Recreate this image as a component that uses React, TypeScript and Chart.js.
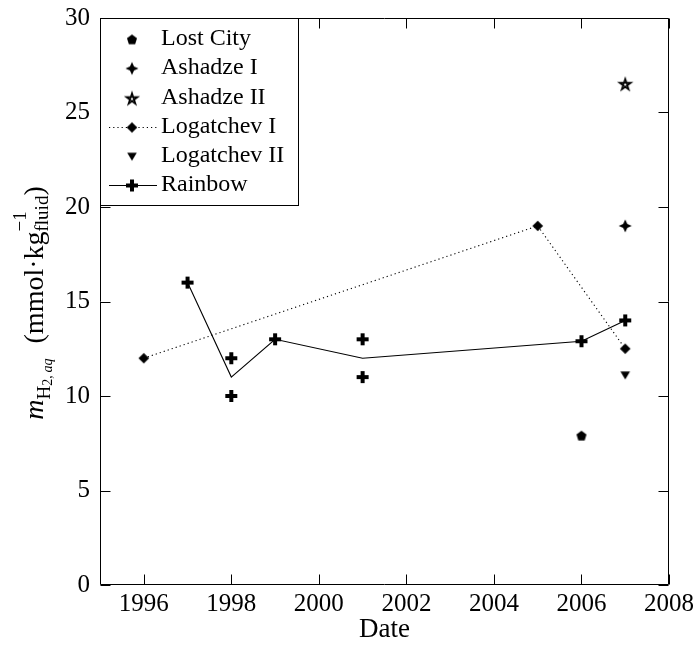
import { useEffect, useRef } from 'react';
import { Chart, registerables } from 'chart.js';

Chart.register(...registerables);

const FONT = '"Liberation Serif", "Times New Roman", serif';

const xTicks = [1996, 1998, 2000, 2002, 2004, 2006, 2008];
const yTicks = [0, 5, 10, 15, 20, 25, 30];

const seriesNames = ['Lost City', 'Ashadze I', 'Ashadze II', 'Logatchev I', 'Logatchev II', 'Rainbow'];

const lostCityYears = [2006];
const lostCityValues = [7.9];
const ashadzeIYears = [2007];
const ashadzeIValues = [19];
const ashadzeIIYears = [2007];
const ashadzeIIValues = [26.5];
const logatchevIYears = [1996, 2005, 2007];
const logatchevIValues = [12, 19, 12.5];
const logatchevIIYears = [2007];
const logatchevIIValues = [11.1];
const rainbowYears = [1997, 1998, 1998, 1999, 2001, 2001, 2006, 2007];
const rainbowValues = [16, 12, 10, 13, 13, 11, 12.9, 14];
const rainbowMeanYears = [1997, 1998, 1999, 2001, 2006, 2007];
const rainbowMeanValues = [16, 11, 13, 12, 12.9, 14];

const pts = (xs: number[], ys: number[]) => xs.map((x, i) => ({ x, y: ys[i] }));

function makeMarker(draw: (ctx: CanvasRenderingContext2D) => void, size = 20) {
  const c = document.createElement('canvas');
  c.width = size;
  c.height = size;
  const ctx = c.getContext('2d')!;
  ctx.translate(size / 2, size / 2);
  ctx.fillStyle = '#000';
  ctx.strokeStyle = '#000';
  draw(ctx);
  return c;
}

function buildMarkers() {
  const pentagon = makeMarker((ctx) => {
    const r = 5.3;
    ctx.beginPath();
    for (let i = 0; i < 5; i++) {
      const a = -Math.PI / 2 + (i * 2 * Math.PI) / 5;
      const px = r * Math.cos(a);
      const py = r * Math.sin(a) + 0.4;
      if (i === 0) ctx.moveTo(px, py);
      else ctx.lineTo(px, py);
    }
    ctx.closePath();
    ctx.fill();
  });
  const fourStar = makeMarker((ctx) => {
    const ro = 6.5;
    const ri = 2.9;
    ctx.beginPath();
    for (let i = 0; i < 8; i++) {
      const a = -Math.PI / 2 + (i * Math.PI) / 4;
      const r = i % 2 === 0 ? ro : ri;
      const px = r * Math.cos(a);
      const py = r * Math.sin(a);
      if (i === 0) ctx.moveTo(px, py);
      else ctx.lineTo(px, py);
    }
    ctx.closePath();
    ctx.fill();
  });
  const pentagram = makeMarker((ctx) => {
    const r = 6.0;
    ctx.lineWidth = 1.6;
    ctx.lineJoin = 'miter';
    ctx.beginPath();
    for (let k = 0; k < 5; k++) {
      const i = (k * 2) % 5;
      const a = -Math.PI / 2 + (i * 2 * Math.PI) / 5;
      const px = r * Math.cos(a);
      const py = r * Math.sin(a) + 0.5;
      if (k === 0) ctx.moveTo(px, py);
      else ctx.lineTo(px, py);
    }
    ctx.closePath();
    ctx.stroke();
  });
  const diamond = makeMarker((ctx) => {
    const r = 5.3;
    ctx.beginPath();
    ctx.moveTo(0, -r);
    ctx.lineTo(r, 0);
    ctx.lineTo(0, r);
    ctx.lineTo(-r, 0);
    ctx.closePath();
    ctx.fill();
  });
  const triDown = makeMarker((ctx) => {
    ctx.beginPath();
    ctx.moveTo(-4.8, -3.8);
    ctx.lineTo(4.8, -3.8);
    ctx.lineTo(0, 4.2);
    ctx.closePath();
    ctx.fill();
  });
  const plus = makeMarker((ctx) => {
    ctx.fillRect(-6, -2, 12, 4);
    ctx.fillRect(-2, -6, 4, 12);
  });
  return { pentagon, fourStar, pentagram, diamond, triDown, plus };
}

export default function App() {
  const ref = useRef<HTMLCanvasElement | null>(null);

  useEffect(() => {
    const canvas = ref.current;
    if (!canvas) return;
    const m = buildMarkers();

    const framePlugin = {
      id: 'frame',
      afterDatasetsDraw(chart: any) {
        const { ctx, chartArea } = chart;
        const { left, right, top, bottom } = chartArea;
        const xs = chart.scales.x;
        const ys = chart.scales.y;
        ctx.save();
        ctx.strokeStyle = '#000';
        ctx.lineWidth = 1;
        const L = Math.round(left) + 0.5;
        const R = Math.round(right) - 0.5;
        const T = Math.round(top) + 0.5;
        const B = Math.round(bottom) - 0.5;
        ctx.beginPath();
        ctx.rect(L, T, R - L, B - T);
        ctx.stroke();
        const tl = 10;
        ctx.beginPath();
        xTicks.forEach((v) => {
          const px = Math.round(xs.getPixelForValue(v)) + 0.5;
          ctx.moveTo(px, B);
          ctx.lineTo(px, B - tl);
          ctx.moveTo(px, T);
          ctx.lineTo(px, T + tl);
        });
        yTicks.forEach((v) => {
          const py = Math.round(ys.getPixelForValue(v)) + 0.5;
          ctx.moveTo(L, py);
          ctx.lineTo(L + tl, py);
          ctx.moveTo(R, py);
          ctx.lineTo(R - tl, py);
        });
        ctx.stroke();
        ctx.restore();
      },
    };

    const yTitlePlugin = {
      id: 'ytitle',
      afterDraw(chart: any) {
        const { ctx } = chart;
        const main = `28px ${FONT}`;
        const mainIt = `italic 28px ${FONT}`;
        const sub = `19px ${FONT}`;
        const subsub = `14px ${FONT}`;
        const subsubIt = `italic 14px ${FONT}`;
        type Piece = { t: string; f: string; dy: number } | { gap: number } | { stack: { t: string; f: string; dy: number }[] };
        const pieces: Piece[] = [
          { t: 'm', f: mainIt, dy: 0 },
          { t: 'H', f: sub, dy: 7 },
          { t: '2,\u2009', f: subsub, dy: 9 },
          { t: 'aq', f: subsubIt, dy: 9 },
          { gap: 15 },
          { t: '(mmol\u00b7kg', f: main, dy: 0 },
          { stack: [{ t: '\u22121', f: sub, dy: -17 }, { t: 'fluid', f: sub, dy: 5 }] },
          { t: ')', f: main, dy: 0 },
        ];
        ctx.save();
        const widthOf = (p: Piece): number => {
          if ('gap' in p) return p.gap;
          if ('stack' in p) {
            return Math.max(
              ...p.stack.map((s) => {
                ctx.font = s.f;
                return ctx.measureText(s.t).width;
              })
            );
          }
          ctx.font = p.f;
          return ctx.measureText(p.t).width;
        };
        const total = pieces.reduce((a, p) => a + widthOf(p), 0);
        ctx.translate(43, 303);
        ctx.rotate(-Math.PI / 2);
        ctx.fillStyle = '#000';
        ctx.textBaseline = 'alphabetic';
        ctx.textAlign = 'left';
        let x = -total / 2;
        pieces.forEach((p) => {
          const w = widthOf(p);
          if ('stack' in p) {
            p.stack.forEach((s) => {
              ctx.font = s.f;
              ctx.fillText(s.t, x, s.dy);
            });
          } else if (!('gap' in p)) {
            ctx.font = p.f;
            ctx.fillText(p.t, x, p.dy);
          }
          x += w;
        });
        ctx.restore();
      },
    };

    const legendMarkers = [m.pentagon, m.fourStar, m.pentagram, m.diamond, m.triDown, m.plus];
    const legendLines: (null | 'dot' | 'solid')[] = [null, null, null, 'dot', null, 'solid'];

    const legendPlugin = {
      id: 'customLegend',
      afterDraw(chart: any) {
        const { ctx } = chart;
        ctx.save();
        ctx.fillStyle = '#fff';
        ctx.fillRect(100.5, 18.5, 198, 187);
        ctx.strokeStyle = '#000';
        ctx.lineWidth = 1;
        ctx.strokeRect(100.5, 18.5, 198, 187);
        seriesNames.forEach((name, i) => {
          const cy = 39.3 + i * 29.15;
          const ln = legendLines[i];
          if (ln) {
            ctx.beginPath();
            ctx.strokeStyle = '#000';
            ctx.lineWidth = 1.1;
            ctx.setLineDash(ln === 'dot' ? [1.2, 3] : []);
            ctx.moveTo(109, Math.round(cy) + 0.5);
            ctx.lineTo(157, Math.round(cy) + 0.5);
            ctx.stroke();
            ctx.setLineDash([]);
          }
          const mk = legendMarkers[i];
          ctx.drawImage(mk, 132 - mk.width / 2, Math.round(cy) + 0.5 - mk.height / 2);
          ctx.fillStyle = '#000';
          ctx.font = `24px ${FONT}`;
          ctx.textBaseline = 'alphabetic';
          ctx.textAlign = 'left';
          ctx.fillText(name, 161, cy + 6);
        });
        ctx.restore();
      },
    };

    const chart = new Chart(canvas, {
      type: 'scatter',
      data: {
        datasets: [
          { label: 'Lost City', data: pts(lostCityYears, lostCityValues), pointStyle: m.pentagon as any, pointRadius: 5, showLine: false },
          { label: 'Ashadze I', data: pts(ashadzeIYears, ashadzeIValues), pointStyle: m.fourStar as any, pointRadius: 5, showLine: false },
          { label: 'Ashadze II', data: pts(ashadzeIIYears, ashadzeIIValues), pointStyle: m.pentagram as any, pointRadius: 5, showLine: false },
          {
            label: 'Logatchev I',
            data: pts(logatchevIYears, logatchevIValues),
            pointStyle: m.diamond as any,
            pointRadius: 5,
            showLine: true,
            borderColor: '#000',
            borderWidth: 1.1,
            borderDash: [1.2, 3],
            fill: false,
          },
          { label: 'Logatchev II', data: pts(logatchevIIYears, logatchevIIValues), pointStyle: m.triDown as any, pointRadius: 5, showLine: false },
          {
            label: 'Rainbow mean',
            data: pts(rainbowMeanYears, rainbowMeanValues),
            showLine: true,
            pointRadius: 0,
            borderColor: '#000',
            borderWidth: 1.1,
            fill: false,
          },
          { label: 'Rainbow', data: pts(rainbowYears, rainbowValues), pointStyle: m.plus as any, pointRadius: 5, showLine: false },
        ] as any,
      },
      options: {
        responsive: false,
        animation: false,
        devicePixelRatio: 1,
        layout: { padding: { top: 18, right: 25, left: 0, bottom: 0 } },
        plugins: { legend: { display: false }, tooltip: { enabled: false } },
        scales: {
          x: {
            type: 'linear',
            min: 1995,
            max: 2008,
            grid: { display: false, drawTicks: false },
            border: { display: false },
            afterBuildTicks: (s: any) => {
              s.ticks = xTicks.map((v) => ({ value: v }));
            },
            afterFit: (s: any) => {
              s.height = 66;
              s.paddingLeft = 0;
              s.paddingRight = 0;
            },
            ticks: {
              autoSkip: false,
              maxRotation: 0,
              padding: 4,
              color: '#000',
              font: { family: FONT, size: 25 },
              callback: (v: any) => String(v),
            },
            title: {
              display: true,
              text: 'Date',
              color: '#000',
              font: { family: FONT, size: 27 },
              padding: { top: 0, bottom: 5 },
            },
          },
          y: {
            type: 'linear',
            min: 0,
            max: 30,
            grid: { display: false, drawTicks: false },
            border: { display: false },
            afterBuildTicks: (s: any) => {
              s.ticks = yTicks.map((v) => ({ value: v }));
            },
            afterFit: (s: any) => {
              s.width = 100;
              s.paddingTop = 0;
              s.paddingBottom = 0;
            },
            ticks: {
              autoSkip: false,
              padding: 10,
              color: '#000',
              font: { family: FONT, size: 25 },
              callback: (v: any) => String(v),
            },
          },
        },
      } as any,
      plugins: [framePlugin, yTitlePlugin, legendPlugin],
    });
    return () => chart.destroy();
  }, []);

  return (
    <div style={{ position: 'absolute', left: 0, top: 0, width: 694, height: 651, background: '#fff' }}>
      <canvas ref={ref} width={694} height={651} style={{ display: 'block', width: 694, height: 651 }} />
    </div>
  );
}
